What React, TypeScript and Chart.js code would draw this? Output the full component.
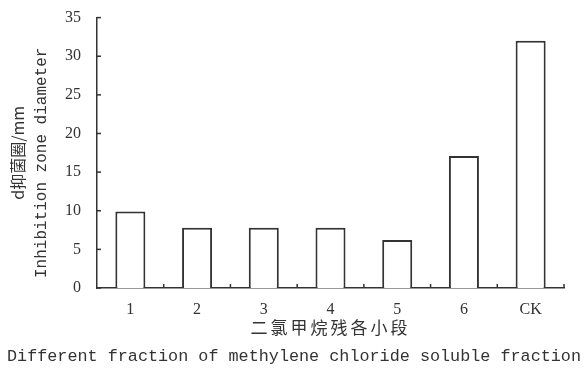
import React, { useEffect, useRef } from "react";
import { Chart, registerables } from "chart.js";

Chart.register(...registerables);

const categories = ["1", "2", "3", "4", "5", "6", "CK"];
const diameters = [9.9, 7.8, 7.8, 7.8, 6.2, 17.1, 32.0];
const yMax = 35;
const yStep = 5;
const yTitleCn = "d抑菌圈/mm";
const yTitleEn = "Inhibition zone diameter";
const xTitleCn = "二氯甲烷残各小段";
const xTitleEn = "Different fraction of methylene chloride soluble fraction";

const INK = "#333";

const decorPlugin = {
  id: "decor",
  afterDraw(chart: any) {
    const { ctx, chartArea, scales } = chart;
    const x = scales.x;
    const y = scales.y;
    ctx.save();
    ctx.strokeStyle = INK;
    ctx.lineWidth = 1.5;
    y.ticks.forEach((t: any) => {
      const py = y.getPixelForValue(t.value);
      ctx.beginPath();
      ctx.moveTo(chartArea.left, py);
      ctx.lineTo(chartArea.left + 4, py);
      ctx.stroke();
    });
    const n = categories.length;
    for (let i = 1; i <= n; i++) {
      const px = x.left + (i * (x.right - x.left)) / n;
      ctx.beginPath();
      ctx.moveTo(px, chartArea.bottom);
      ctx.lineTo(px, chartArea.bottom - 4);
      ctx.stroke();
    }
    ctx.fillStyle = INK;
    const cx = (chartArea.left + chartArea.right) / 2;
    ctx.textAlign = "center";
    ctx.textBaseline = "middle";
    ctx.font = "17px 'Noto Sans CJK SC'";
    (ctx as any).letterSpacing = "3px";
    ctx.fillText(xTitleCn, cx, chartArea.bottom + 40);
    (ctx as any).letterSpacing = "0px";
    ctx.font = "16.8px 'Liberation Mono'";
    ctx.fillText(xTitleEn, chart.width / 2 + 2, chartArea.bottom + 69);
    const cy = (chartArea.top + chartArea.bottom) / 2;
    ctx.save();
    ctx.translate(18, cy);
    ctx.rotate(-Math.PI / 2);
    ctx.font = "16px 'Noto Sans CJK SC'";
    ctx.fillText(yTitleCn, 0, 0);
    ctx.restore();
    ctx.save();
    ctx.translate(42, cy + 10);
    ctx.rotate(-Math.PI / 2);
    ctx.font = "16px 'Liberation Mono'";
    ctx.fillText(yTitleEn, 0, 0);
    ctx.restore();
    ctx.restore();
  },
};

export default function App() {
  const ref = useRef<HTMLCanvasElement | null>(null);
  useEffect(() => {
    if (!ref.current) return;
    const chart = new Chart(ref.current, {
      type: "bar",
      data: {
        labels: categories,
        datasets: [
          {
            data: diameters,
            backgroundColor: "#ffffff",
            borderColor: INK,
            borderWidth: 2,
            barPercentage: 0.45,
            categoryPercentage: 1,
          },
        ],
      },
      plugins: [decorPlugin],
      options: {
        animation: false,
        responsive: false,
        maintainAspectRatio: false,
        layout: { padding: { top: 16, right: 20, left: 0, bottom: 0 } },
        plugins: {
          legend: { display: false },
          tooltip: { enabled: false },
        },
        scales: {
          x: {
            grid: { display: false },
            border: { display: true, color: INK, width: 1.5 },
            ticks: {
              color: INK,
              padding: 4,
              font: { family: "'Liberation Serif'", size: 16 },
            },
            afterFit(scale: any) {
              scale.height = 88;
            },
          },
          y: {
            min: 0,
            max: yMax,
            grid: { display: false },
            border: { display: true, color: INK, width: 1.5 },
            ticks: {
              stepSize: yStep,
              color: INK,
              padding: 8,
              font: { family: "'Liberation Serif'", size: 16 },
            },
            afterFit(scale: any) {
              scale.width = 97;
            },
          },
        },
      },
    });
    return () => chart.destroy();
  }, []);
  return (
    <div style={{ position: "absolute", left: 0, top: 0, width: 584, height: 376, background: "#fff" }}>
      <canvas ref={ref} width={584} height={376} style={{ width: 584, height: 376 }} />
    </div>
  );
}
